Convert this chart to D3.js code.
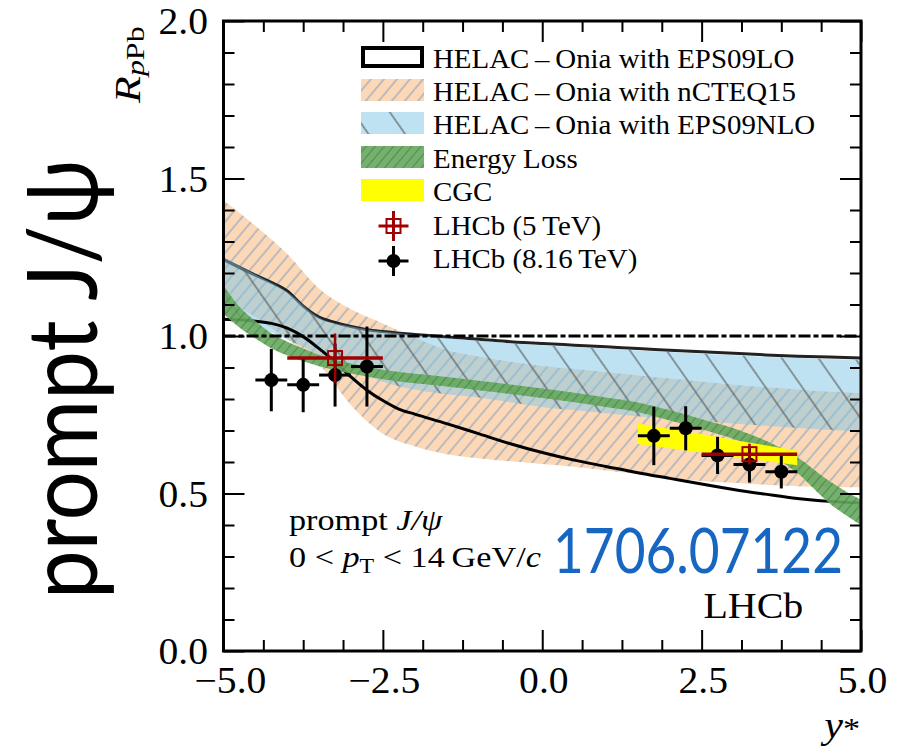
<!DOCTYPE html>
<html><head><meta charset="utf-8">
<script src="https://cdn.jsdelivr.net/npm/d3@7"></script>
<style>body{margin:0;background:#fff;} svg{display:block;}</style>
</head><body>
<svg id="c" width="914" height="750"></svg>
<script>
// ---------------- data ----------------
const xTicksMajor = [-5, -2.5, 0, 2.5, 5];
const xTicksMinor = [-4.375, -3.75, -3.125, -1.875, -1.25, -0.625, 0.625, 1.25, 1.875, 3.125, 3.75, 4.375];
const yTicksMajor = [0, 0.5, 1.0, 1.5, 2.0];
const yTicksMinor = [0.1,0.2,0.3,0.4,0.6,0.7,0.8,0.9,1.1,1.2,1.3,1.4,1.6,1.7,1.8,1.9];

// nCTEQ15 and EPS09NLO bands
const bandX  = [-5, -4.5, -4, -3.5, -3, -2.5, -2, -1.5, -1, -0.5, 0, 0.5, 1, 1.5, 2, 2.5, 3, 3.5, 4, 4.5, 5];
const nctHi  = [1.43, 1.35, 1.26, 1.15, 1.085, 1.04, 0.995, 0.955, 0.935, 0.918, 0.905, 0.895, 0.885, 0.875, 0.865, 0.855, 0.845, 0.837, 0.83, 0.823, 0.818];
const nctLo  = [1.12, 1.06, 0.99, 0.91, 0.78, 0.69, 0.65, 0.625, 0.612, 0.602, 0.594, 0.585, 0.573, 0.562, 0.55, 0.54, 0.534, 0.528, 0.523, 0.521, 0.52];
const nloHi  = [1.25, 1.195, 1.14, 1.058, 1.03, 1.014, 1.003, 0.994, 0.985, 0.977, 0.971, 0.965, 0.96, 0.954, 0.949, 0.944, 0.939, 0.934, 0.93, 0.927, 0.924];
const nloLo  = [1.07, 1.03, 0.99, 0.94, 0.895, 0.855, 0.83, 0.815, 0.805, 0.79, 0.775, 0.765, 0.755, 0.745, 0.737, 0.729, 0.722, 0.715, 0.708, 0.702, 0.696];

// EPS09LO band (outline only)
const loX  = [-5, -4.5, -4.25, -4, -3.75, -3.5, -3.25, -3, -2.75, -2.5, -2.25, -2, -1.5, -1, -0.5, 0, 0.5, 1, 1.5, 2, 2.5, 3, 3.5, 4, 4.5, 5];
const loHi = [1.243, 1.193, 1.17, 1.143, 1.095, 1.06, 1.043, 1.03, 1.02, 1.014, 1.009, 1.005, 0.997, 0.99, 0.982, 0.976, 0.971, 0.966, 0.96, 0.955, 0.95, 0.945, 0.94, 0.936, 0.933, 0.93];
const loLo = [1.053, 1.047, 1.04, 1.025, 0.998, 0.96, 0.918, 0.87, 0.828, 0.795, 0.768, 0.752, 0.722, 0.69, 0.658, 0.63, 0.606, 0.586, 0.566, 0.548, 0.53, 0.513, 0.498, 0.484, 0.475, 0.47];

// Energy loss band
const elossX  = [-5, -4.75, -4.5, -4.25, -4, -3.75, -3.5, -3, -2.5, -2, -1.5, -1, -0.5, 0, 0.5, 1, 1.5, 2, 2.5, 3, 3.5, 4, 4.5, 5];
const elossLo = [1.07, 1.027, 0.992, 0.961, 0.938, 0.92, 0.904, 0.881, 0.863, 0.85, 0.84, 0.828, 0.816, 0.803, 0.79, 0.775, 0.759, 0.732, 0.704, 0.673, 0.632, 0.565, 0.47, 0.4];
const elossHi = [1.16, 1.093, 1.048, 1.009, 0.982, 0.96, 0.94, 0.913, 0.893, 0.88, 0.87, 0.858, 0.846, 0.833, 0.82, 0.805, 0.789, 0.764, 0.736, 0.707, 0.668, 0.615, 0.54, 0.48];

// CGC band
const cgcX  = [1.5, 2.0, 2.5, 3.0, 3.5, 4.0];
const cgcLo = [0.657, 0.644, 0.630, 0.617, 0.603, 0.590];
const cgcHi = [0.722, 0.705, 0.688, 0.670, 0.653, 0.636];

// LHCb 8.16 TeV
const lhcb8X   = [-4.25, -3.75, -3.25, -2.75, 1.75, 2.25, 2.75, 3.25, 3.75];
const lhcb8Y   = [0.86, 0.845, 0.876, 0.903, 0.683, 0.707, 0.621, 0.592, 0.569];
const lhcb8Err = [0.099, 0.087, 0.10, 0.127, 0.093, 0.07, 0.059, 0.057, 0.053];
const lhcb8XErr = 0.25;
// LHCb 5 TeV
const lhcb5X   = [-3.25, 3.25];
const lhcb5Y   = [0.93, 0.625];
const lhcb5Err = [0.078, 0.033];
const lhcb5XErr = 0.75;

const legendLabels = ["HELAC\u2009\u2013\u2009Onia with EPS09LO", "HELAC\u2009\u2013\u2009Onia with nCTEQ15",
  "HELAC\u2009\u2013\u2009Onia with EPS09NLO", "Energy Loss", "CGC", "LHCb (5\u2009TeV)", "LHCb (8.16\u2009TeV)"];

// ---------------- drawing ----------------
const svg = d3.select("#c");
const SERIF = "'Liberation Serif','Times New Roman',serif";
const SX = 1.14;      // horizontal stretch of annotation text
const SX_TICK = 1.07; // tick labels
const SX_LEG = 1.07;  // legend
const PL = 223.5, PR = 861, PT = 21, PB = 651;
const x = d3.scaleLinear().domain([-5, 5]).range([PL, PR]);
const y = d3.scaleLinear().domain([0, 2]).range([PB, PT]);

svg.append("rect").attr("width", 914).attr("height", 750).attr("fill", "#fff");
const defs = svg.append("defs");
defs.append("clipPath").attr("id", "clip").append("rect")
  .attr("x", PL).attr("y", PT).attr("width", PR - PL).attr("height", PB - PT);

function hatch(id, sp, angle, color, w) {
  const p = defs.append("pattern").attr("id", id).attr("patternUnits", "userSpaceOnUse")
    .attr("width", sp).attr("height", sp).attr("patternTransform", `rotate(${angle})`);
  p.append("line").attr("x1", sp / 2).attr("y1", 0).attr("x2", sp / 2).attr("y2", sp)
    .attr("stroke", color).attr("stroke-width", w);
}
hatch("hOrange", 10, 40, "#8fa6c0", 1.2);
hatch("hBlue", 30, -35, "#555", 1.3);
hatch("hGreen", 7, 40, "#4b6b4b", 1.2);

const COL_OR = "rgb(252,216,182)";
const COL_BL = "rgb(125,197,229)";
const COL_GR = "rgb(100,170,92)";

const plot = svg.append("g").attr("clip-path", "url(#clip)");
function band(xs, lo, hi) {
  return d3.area().x((d, i) => x(xs[i])).y0((d, i) => y(lo[i])).y1((d, i) => y(hi[i]))
    .curve(d3.curveMonotoneX)(xs);
}
function curve(xs, ys) {
  return d3.line().x((d, i) => x(xs[i])).y((d, i) => y(ys[i])).curve(d3.curveMonotoneX)(xs);
}

// nCTEQ15
const dOr = band(bandX, nctLo, nctHi);
plot.append("path").attr("d", dOr).attr("fill", COL_OR);
plot.append("path").attr("d", dOr).attr("fill", "url(#hOrange)");
// EPS09LO upper edge (under blue)
plot.append("path").attr("d", curve(loX, loHi)).attr("fill", "none").attr("stroke", "#222").attr("stroke-width", 3);
// EPS09NLO
const dBl = band(bandX, nloLo, nloHi);
plot.append("path").attr("d", dBl).attr("fill", COL_BL).attr("fill-opacity", 0.5);
plot.append("path").attr("d", dBl).attr("fill", "url(#hBlue)").attr("opacity", 0.85);
// EPS09LO lower edge
plot.append("path").attr("d", curve(loX, loLo)).attr("fill", "none").attr("stroke", "#000").attr("stroke-width", 3);
// Energy loss
const dGr = band(elossX, elossLo, elossHi);
plot.append("path").attr("d", dGr).attr("fill", COL_GR).attr("fill-opacity", 0.9);
plot.append("path").attr("d", dGr).attr("fill", "url(#hGreen)").attr("opacity", 0.6);
// CGC
plot.append("path").attr("d", d3.area().x((d, i) => x(cgcX[i])).y0((d, i) => y(cgcLo[i])).y1((d, i) => y(cgcHi[i]))(cgcX))
  .attr("fill", "#ffff00");
// unity line
plot.append("line").attr("x1", x(-5)).attr("x2", x(5)).attr("y1", y(1)).attr("y2", y(1))
  .attr("stroke", "#000").attr("stroke-width", 2.8).attr("stroke-dasharray", "12,3,5,3");

// LHCb 8.16 TeV
const g8 = svg.append("g");
lhcb8X.forEach((xv, i) => {
  g8.append("line").attr("x1", x(xv - lhcb8XErr)).attr("x2", x(xv + lhcb8XErr)).attr("y1", y(lhcb8Y[i])).attr("y2", y(lhcb8Y[i]))
    .attr("stroke", "#000").attr("stroke-width", 3);
  g8.append("line").attr("x1", x(xv)).attr("x2", x(xv)).attr("y1", y(lhcb8Y[i] - lhcb8Err[i])).attr("y2", y(lhcb8Y[i] + lhcb8Err[i]))
    .attr("stroke", "#000").attr("stroke-width", 3);
  g8.append("circle").attr("cx", x(xv)).attr("cy", y(lhcb8Y[i])).attr("r", 7).attr("fill", "#000");
});
// LHCb 5 TeV
const RED = "#a00000";
const g5 = svg.append("g");
lhcb5X.forEach((xv, i) => {
  g5.append("line").attr("x1", x(xv - lhcb5XErr)).attr("x2", x(xv + lhcb5XErr)).attr("y1", y(lhcb5Y[i])).attr("y2", y(lhcb5Y[i]))
    .attr("stroke", RED).attr("stroke-width", 3.5);
  g5.append("line").attr("x1", x(xv)).attr("x2", x(xv)).attr("y1", y(lhcb5Y[i] - lhcb5Err[i])).attr("y2", y(lhcb5Y[i] + lhcb5Err[i]))
    .attr("stroke", RED).attr("stroke-width", 2.5);
  g5.append("rect").attr("x", x(xv) - 7).attr("y", y(lhcb5Y[i]) - 7).attr("width", 14).attr("height", 14)
    .attr("fill", "none").attr("stroke", RED).attr("stroke-width", 2);
});

// ---------------- axes ----------------
function clean(g) {
  g.select(".domain").remove();
  g.selectAll(".tick line").attr("stroke", "#000").attr("stroke-width", 2);
}
const fmt = d3.format(".1f");
const gB = svg.append("g").attr("transform", `translate(0,${PB})`)
  .call(d3.axisBottom(x).tickValues(xTicksMajor).tickSize(-21).tickFormat(fmt)).call(clean);
gB.selectAll(".tick text").attr("y", 42).attr("dy", null).attr("fill", "#000")
  .attr("x", d => d === -5 ? 6 : 1)
  .attr("font-family", SERIF).attr("font-size", 37).attr("transform", `scale(${SX_TICK},1)`);
svg.append("g").attr("transform", `translate(0,${PB})`)
  .call(d3.axisBottom(x).tickValues(xTicksMinor).tickSize(-11).tickFormat("")).call(clean);
svg.append("g").attr("transform", `translate(0,${PT})`)
  .call(d3.axisTop(x).tickValues(xTicksMajor).tickSize(-21).tickFormat("")).call(clean);
svg.append("g").attr("transform", `translate(0,${PT})`)
  .call(d3.axisTop(x).tickValues(xTicksMinor).tickSize(-11).tickFormat("")).call(clean);

const gL = svg.append("g").attr("transform", `translate(${PL},0)`)
  .call(d3.axisLeft(y).tickValues(yTicksMajor).tickSize(-21).tickFormat(fmt)).call(clean);
gL.selectAll(".tick text").attr("x", -14.5).attr("y", 12.5).attr("dy", null).attr("fill", "#000")
  .attr("font-family", SERIF).attr("font-size", 37).attr("transform", `scale(${SX_TICK},1)`);
svg.append("g").attr("transform", `translate(${PL},0)`)
  .call(d3.axisLeft(y).tickValues(yTicksMinor).tickSize(-11).tickFormat("")).call(clean);
svg.append("g").attr("transform", `translate(${PR},0)`)
  .call(d3.axisRight(y).tickValues(yTicksMajor).tickSize(-21).tickFormat("")).call(clean);
svg.append("g").attr("transform", `translate(${PR},0)`)
  .call(d3.axisRight(y).tickValues(yTicksMinor).tickSize(-11).tickFormat("")).call(clean);

svg.append("rect").attr("x", PL).attr("y", PT).attr("width", PR - PL).attr("height", PB - PT)
  .attr("fill", "none").attr("stroke", "#000").attr("stroke-width", 3);

// ---------------- texts ----------------
function stext(xp, yp, size, sx) {
  return svg.append("text").attr("transform", `translate(${xp},${yp}) scale(${sx || SX},1)`)
    .attr("font-family", SERIF).attr("font-size", size).attr("fill", "#000");
}
// x title y*
const tx = stext(860, 738, 37).attr("text-anchor", "end");
tx.append("tspan").attr("font-style", "italic").text("y");
tx.append("tspan").attr("font-size", 30).text("*");

// y title R_pPb (rotated)
const ty = svg.append("text").attr("transform", "translate(140,103) rotate(-90) scale(1,0.82)")
  .attr("font-family", SERIF).attr("font-size", 44).attr("fill", "#000");
ty.append("tspan").attr("font-style", "italic").text("R");
ty.append("tspan").attr("font-style", "italic").attr("font-size", 32).attr("dy", 5).text("p");
ty.append("tspan").attr("font-size", 32).text("Pb");

// big rotated label
svg.append("text").attr("transform", "translate(97,379) rotate(-90)")
  .attr("text-anchor", "middle").attr("font-family", "Lato,'Open Sans','Noto Sans',sans-serif")
  .attr("font-size", 96).attr("fill", "#000").attr("textLength", 440).attr("lengthAdjust", "spacingAndGlyphs")
  .text("prompt J/\u03c8");

// legend
const legBase = [68, 101, 134, 168, 201, 235, 268];
const LX = 361, LW = 63, LH = 22;
const leg = svg.append("g");
leg.append("rect").attr("x", LX + 2).attr("y", legBase[0] - LH + 2).attr("width", LW - 4).attr("height", LH - 4)
  .attr("fill", "#fff").attr("stroke", "#000").attr("stroke-width", 4);
leg.append("rect").attr("x", LX).attr("y", legBase[1] - LH).attr("width", LW).attr("height", LH).attr("fill", COL_OR);
leg.append("rect").attr("x", LX).attr("y", legBase[1] - LH).attr("width", LW).attr("height", LH).attr("fill", "url(#hOrange)");
leg.append("rect").attr("x", LX).attr("y", legBase[2] - LH).attr("width", LW).attr("height", LH).attr("fill", COL_BL).attr("fill-opacity", 0.5);
leg.append("rect").attr("x", LX).attr("y", legBase[2] - LH).attr("width", LW).attr("height", LH).attr("fill", "url(#hBlue)").attr("opacity", 0.85);
leg.append("rect").attr("x", LX).attr("y", legBase[3] - LH).attr("width", LW).attr("height", LH).attr("fill", COL_GR).attr("fill-opacity", 0.9);
leg.append("rect").attr("x", LX).attr("y", legBase[3] - LH).attr("width", LW).attr("height", LH).attr("fill", "url(#hGreen)").attr("opacity", 0.6);
leg.append("rect").attr("x", LX).attr("y", legBase[4] - LH).attr("width", LW).attr("height", LH).attr("fill", "#ffff00");
const mx = LX + LW / 2 + 1;
// red marker
const my5 = legBase[5] - 9;
leg.append("line").attr("x1", mx - 15).attr("x2", mx + 15).attr("y1", my5).attr("y2", my5).attr("stroke", RED).attr("stroke-width", 3);
leg.append("line").attr("x1", mx).attr("x2", mx).attr("y1", my5 - 15).attr("y2", my5 + 15).attr("stroke", RED).attr("stroke-width", 3);
leg.append("rect").attr("x", mx - 7).attr("y", my5 - 7).attr("width", 14).attr("height", 14).attr("fill", "none").attr("stroke", RED).attr("stroke-width", 2);
// black marker
const my8 = legBase[6] - 7;
leg.append("line").attr("x1", mx - 15).attr("x2", mx + 15).attr("y1", my8).attr("y2", my8).attr("stroke", "#000").attr("stroke-width", 3);
leg.append("line").attr("x1", mx).attr("x2", mx).attr("y1", my8 - 15).attr("y2", my8 + 15).attr("stroke", "#000").attr("stroke-width", 3);
leg.append("circle").attr("cx", mx).attr("cy", my8).attr("r", 7).attr("fill", "#000");
legendLabels.forEach((t, i) => { stext(433, legBase[i], 27, SX_LEG).text(t); });

// annotation texts
const t1 = stext(289, 530, 30);
t1.append("tspan").text("prompt ");
t1.append("tspan").attr("font-style", "italic").text("J/\u03c8");
const t2 = stext(289, 567, 30);
t2.append("tspan").text("0 < ");
t2.append("tspan").attr("font-style", "italic").text("p");
t2.append("tspan").attr("font-size", 21).attr("dy", 6).text("T");
t2.append("tspan").attr("dy", -6).text(" < 14\u2009GeV/");
t2.append("tspan").attr("font-style", "italic").text("c");
stext(703.5, 618, 35).text("LHCb");

svg.append("text").attr("x", 553).attr("y", 573).attr("font-family", "Lato,'Open Sans',sans-serif")
  .attr("font-size", 62).attr("fill", "#1767c2").attr("textLength", 290).attr("lengthAdjust", "spacingAndGlyphs")
  .text("1706.07122");
</script>
</body></html>
